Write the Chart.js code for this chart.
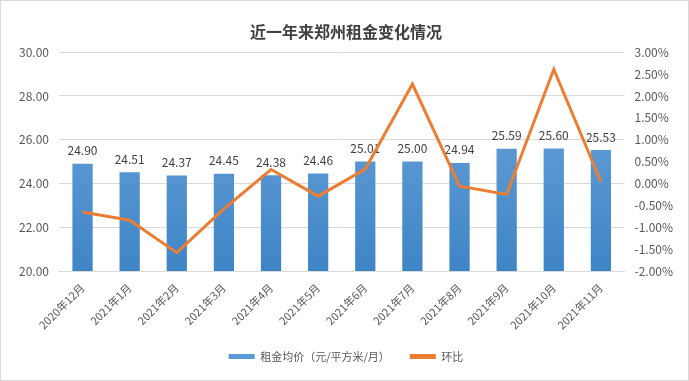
<!DOCTYPE html>
<html>
<head>
<meta charset="utf-8">
<script src="https://cdn.jsdelivr.net/npm/chart.js@4"></script>
<style>
  html, body { margin: 0; padding: 0; background: #fff; }
  #wrap { width: 687px; height: 379px; border: 1px solid #d9d9d9; position: relative; }
</style>
</head>
<body>
<div id="wrap"><canvas id="c" width="687" height="379"></canvas></div>
<script>
// chart data
const months = ["2020年12月", "2021年1月", "2021年2月", "2021年3月", "2021年4月", "2021年5月",
  "2021年6月", "2021年7月", "2021年8月", "2021年9月", "2021年10月", "2021年11月"];
const rentPrice = [24.90, 24.51, 24.37, 24.45, 24.38, 24.46, 25.01, 25.00, 24.94, 25.59, 25.60, 25.53];
const ringRatio = [-0.65, -0.84, -1.58, -0.58, 0.32, -0.29, 0.33, 2.27, -0.06, -0.25, 2.61, 0.04];

const FONT = "'Noto Sans CJK SC', 'Liberation Sans', sans-serif";
const GRAY = "#595959";

// bar gradient, lighter on top
function barFill(ctx) {
  const area = ctx.chart.chartArea;
  if (!area) return "#5b9bd5";
  const g = ctx.chart.ctx.createLinearGradient(0, area.top, 0, area.bottom);
  g.addColorStop(0, "#72a7dd");
  g.addColorStop(1, "#3e85c6");
  return g;
}

// value labels over bars, drawn before the line so the line sits on top
const barLabels = {
  id: "barLabels",
  afterDatasetDraw(chart, args) {
    if (args.index !== 0) return;
    const c = chart.ctx;
    c.save();
    c.font = "12px " + FONT;
    c.fillStyle = "#404040";
    c.textAlign = "center";
    c.textBaseline = "bottom";
    args.meta.data.forEach((bar, i) => {
      c.fillText(rentPrice[i].toFixed(2), bar.x, bar.y - 7);
    });
    c.restore();
  },
};

new Chart(document.getElementById("c"), {
  data: {
    labels: months,
    datasets: [
      {
        type: "bar",
        label: "租金均价（元/平方米/月）",
        data: rentPrice,
        yAxisID: "y",
        backgroundColor: barFill,
        barPercentage: 0.43,
        categoryPercentage: 1,
        order: 2,
      },
      {
        type: "line",
        label: "环比",
        data: ringRatio,
        yAxisID: "y1",
        borderColor: "#ed7d31",
        backgroundColor: "#ed7d31",
        borderWidth: 3,
        pointRadius: 0,
        tension: 0,
        order: 1,
      },
    ],
  },
  options: {
    responsive: false,
    animation: false,
    layout: { padding: { left: 8, right: 5, top: 8, bottom: 8 } },
    plugins: {
      title: {
        display: true,
        text: "近一年来郑州租金变化情况",
        color: "#404040",
        font: { family: FONT, size: 16, weight: "bold" },
        padding: { top: 13, bottom: 11 },
      },
      legend: {
        position: "bottom",
        labels: {
          color: GRAY,
          font: { family: FONT, size: 11 },
          boxWidth: 26,
          boxHeight: 5,
          padding: 20,
          generateLabels(chart) {
            return chart.data.datasets.map((ds, i) => ({
              text: ds.label,
              fillStyle: i === 0 ? "#5b9bd5" : "#ed7d31",
              strokeStyle: i === 0 ? "#5b9bd5" : "#ed7d31",
              lineWidth: 0,
              datasetIndex: i,
              fontColor: GRAY,
            }));
          },
        },
      },
      tooltip: { enabled: false },
    },
    scales: {
      x: {
        grid: { display: false },
        border: { color: "#d9d9d9" },
        afterFit: (scale) => { scale.height = 60; },
        ticks: {
          color: GRAY,
          font: { family: FONT, size: 11 },
          minRotation: 45,
          maxRotation: 45,
          padding: 2,
        },
      },
      y: {
        position: "left",
        min: 20,
        max: 30,
        ticks: {
          stepSize: 2,
          color: GRAY,
          font: { family: FONT, size: 12 },
          padding: 10,
          callback: (v) => v.toFixed(2),
        },
        grid: { color: "#d9d9d9", drawTicks: false },
        border: { display: false },
      },
      y1: {
        position: "right",
        min: -2,
        max: 3,
        ticks: {
          stepSize: 0.5,
          color: GRAY,
          font: { family: FONT, size: 12 },
          padding: 10,
          callback: (v) => v.toFixed(2) + "%",
        },
        grid: { display: false, drawTicks: false },
        border: { display: false },
      },
    },
  },
  plugins: [barLabels],
});
</script>
</body>
</html>
